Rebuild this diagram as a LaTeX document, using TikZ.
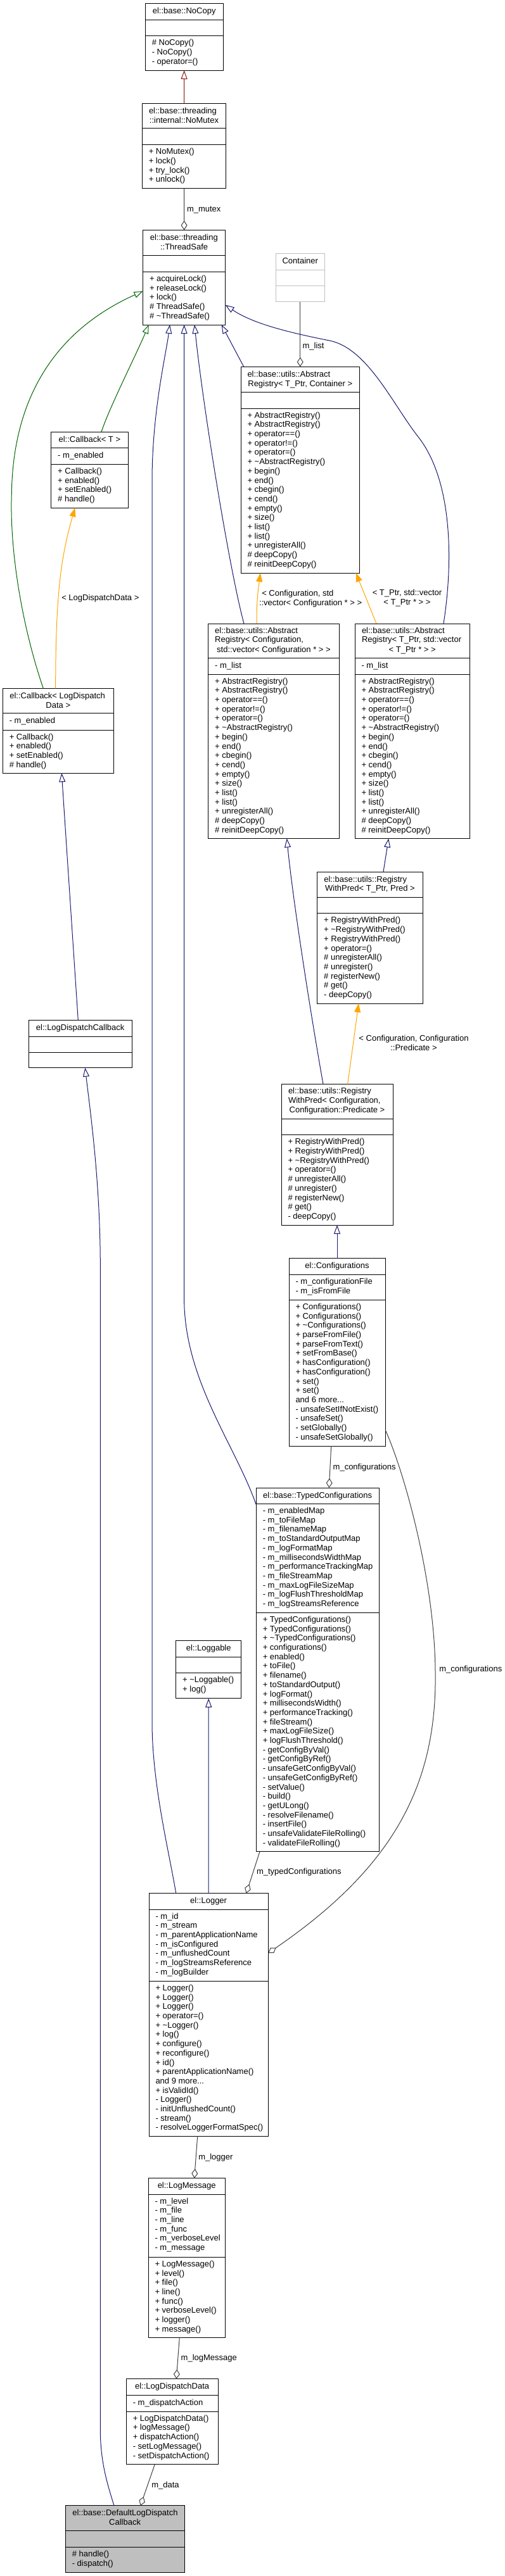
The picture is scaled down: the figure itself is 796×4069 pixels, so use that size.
\documentclass[tikz,border=0pt]{standalone}
\usepackage{fontspec}
\setmainfont{Liberation Sans}
\usetikzlibrary{arrows.meta}
\definecolor{dblue}{HTML}{191970}
\definecolor{dgreen}{HTML}{006400}
\definecolor{dorange}{HTML}{FFA500}
\definecolor{dred}{HTML}{8B1A1A}
\definecolor{dgray}{HTML}{404040}
\definecolor{lgray}{HTML}{BFBFBF}
\newcounter{txn}
\tikzset{
  umlbox/.style={draw=black, line width=1pt, fill=white, inner sep=0pt, outer sep=0pt, anchor=north west},
  sepline/.style={line width=1pt},
  txt/.style={font=\fontsize{13}{14.7}\selectfont, inner sep=0pt, outer sep=0pt, align=left, text=black, execute at begin node=\strut},
  inh/.style={draw=#1, line width=1pt, -{Triangle[open,length=14pt,width=10pt]}},
  tmpl/.style={draw=dorange, line width=1pt, -{Triangle[length=14pt,width=10pt]}},
  agg/.style={draw=dgray, line width=1pt, -{Diamond[open,length=15pt,width=10pt]}},
}
\newcommand\umlcls[6][]{\node[umlbox,#1,minimum width={#4-#2},minimum height={#5-#3}] (#6) at (#2,#3) {};}
\newcommand\sepl[4][black]{\draw[sepline,draw=#1] (#2,#4) -- (#3,#4);}
\newcommand\tleft[3]{\stepcounter{txn}\node[txt,anchor=north west] (t\arabic{txn}) at (#1,{#2-10.29}) {#3};}
\newcommand\tcent[3]{\stepcounter{txn}\node[txt,anchor=north,align=center] (t\arabic{txn}) at (#1,{#2-10.29}) {#3};}
\newcommand\armethods{+ AbstractRegistry()\\+ AbstractRegistry()\\+ operator==()\\+ operator!=()\\+ operator=()\\+ \textasciitilde AbstractRegistry()\\+ begin()\\+ end()\\+ cbegin()\\+ cend()\\+ empty()\\+ size()\\+ list()\\+ list()\\+ unregisterAll()\\\# deepCopy()\\\# reinitDeepCopy()}
\begin{document}
\begin{tikzpicture}[x=1pt,y=-1pt]
\fill[white] (0,0) rectangle (796,4069);
\useasboundingbox (0,0) rectangle (796,4069);

% NoCopy
\umlcls{229.3}{5.7}{352}{111}{nocopy}
\sepl{229.3}{352}{31.3}\sepl{229.3}{352}{56.7}
\tcent{290.65}{21.7}{el::base::NoCopy}
\tleft{239.8}{72.7}{\# NoCopy()\\- NoCopy()\\- operator=()}

% NoMutex
\umlcls{224.3}{163.3}{356.7}{297.7}{nomutex}
\sepl{224.3}{356.7}{202.7}\sepl{224.3}{356.7}{228.7}
\tleft{235}{179.3}{el::base::threading}
\tcent{290.5}{194}{::internal::NoMutex}
\tleft{234.8}{244.7}{+ NoMutex()\\+ lock()\\+ try\_lock()\\+ unlock()}

% ThreadSafe
\umlcls{225.5}{363.5}{355.7}{513}{threadsafe}
\sepl{225.5}{355.7}{403.3}\sepl{225.5}{355.7}{429.3}
\tleft{236.8}{379.5}{el::base::threading}
\tcent{290.6}{394.2}{::ThreadSafe}
\tleft{236}{445.3}{+ acquireLock()\\+ releaseLock()\\+ lock()\\\# ThreadSafe()\\\# \textasciitilde ThreadSafe()}

% Container
\umlcls[draw=lgray]{435.5}{400.7}{512}{476.7}{container}
\sepl[lgray]{435.5}{512}{426}\sepl[lgray]{435.5}{512}{451}
\tcent{473.75}{416.7}{Container}

% AbstractRegistry<T_Ptr, Container>
\umlcls{380}{579.3}{567.5}{905}{arcont}
\sepl{380}{567.5}{619.5}\sepl{380}{567.5}{645}
\tleft{390.5}{595.3}{el::base::utils::Abstract}
\tcent{473.75}{610}{Registry< T\_Ptr, Container >}
\tleft{390.5}{661}{\armethods}

% Callback<T>
\umlcls{80.7}{682.3}{202}{802.3}{cbt}
\sepl{80.7}{202}{707.7}\sepl{80.7}{202}{733.3}
\tcent{141.35}{698.3}{el::Callback< T >}
\tleft{91.2}{723.7}{- m\_enabled}
\tleft{91.2}{749.3}{+ Callback()\\+ enabled()\\+ setEnabled()\\\# handle()}

% Callback<LogDispatchData>
\umlcls{4.3}{1087.3}{179.3}{1221.2}{cbldd}
\sepl{4.3}{179.3}{1126.8}\sepl{4.3}{179.3}{1153}
\tleft{15.3}{1103.3}{el::Callback< LogDispatch}
\tcent{91.8}{1118}{Data >}
\tleft{14.8}{1142.8}{- m\_enabled}
\tleft{14.8}{1169}{+ Callback()\\+ enabled()\\+ setEnabled()\\\# handle()}

% AbstractRegistry<Configuration, ...>
\umlcls{328.7}{985}{535.3}{1324.5}{arconf}
\sepl{328.7}{535.3}{1039}\sepl{328.7}{535.3}{1065}
\tleft{339.2}{1001}{el::base::utils::Abstract\\Registry< Configuration,}
\tcent{432}{1030.4}{std::vector< Configuration * > >}
\tleft{339.2}{1055}{- m\_list}
\tleft{339.2}{1081}{\armethods}

% AbstractRegistry<T_Ptr, std::vector>
\umlcls{560}{985}{741.5}{1324.5}{arvec}
\sepl{560}{741.5}{1039}\sepl{560}{741.5}{1065}
\tleft{571}{1001}{el::base::utils::Abstract\\Registry< T\_Ptr, std::vector}
\tcent{650.75}{1030.4}{< T\_Ptr * > >}
\tleft{570.5}{1055}{- m\_list}
\tleft{570.5}{1081}{\armethods}

% RegistryWithPred<T_Ptr, Pred>
\umlcls{500.7}{1377}{667.3}{1585}{rwptp}
\sepl{500.7}{667.3}{1417}\sepl{500.7}{667.3}{1442.8}
\tleft{511.3}{1393}{el::base::utils::Registry}
\tcent{584}{1407.7}{WithPred< T\_Ptr, Pred >}
\tleft{511.2}{1458.8}{+ RegistryWithPred()\\+ \textasciitilde RegistryWithPred()\\+ RegistryWithPred()\\+ operator=()\\\# unregisterAll()\\\# unregister()\\\# registerNew()\\\# get()\\- deepCopy()}

% RegistryWithPred<Configuration, ...>
\umlcls{444}{1712.3}{620}{1935}{rwpconf}
\sepl{444}{620}{1767.3}\sepl{444}{620}{1792.7}
\tleft{455}{1728.3}{el::base::utils::Registry\\WithPred< Configuration,}
\tcent{532}{1757.7}{Configuration::Predicate >}
\tleft{454.5}{1808.7}{+ RegistryWithPred()\\+ RegistryWithPred()\\+ \textasciitilde RegistryWithPred()\\+ operator=()\\\# unregisterAll()\\\# unregister()\\\# registerNew()\\\# get()\\- deepCopy()}

% LogDispatchCallback
\umlcls{45}{1611.5}{208.3}{1686.7}{ldcb}
\sepl{45}{208.3}{1637.6}\sepl{45}{208.3}{1662.5}
\tcent{126.65}{1627.5}{el::LogDispatchCallback}

% Configurations
\umlcls{456}{1987.7}{608}{2284}{configs}
\sepl{456}{608}{2013.3}\sepl{456}{608}{2053.3}
\tcent{532}{2003.7}{el::Configurations}
\tleft{466.5}{2029.3}{- m\_configurationFile\\- m\_isFromFile}
\tleft{466.5}{2069.3}{+ Configurations()\\+ Configurations()\\+ \textasciitilde Configurations()\\+ parseFromFile()\\+ parseFromText()\\+ setFromBase()\\+ hasConfiguration()\\+ hasConfiguration()\\+ set()\\+ set()\\and 6 more...\\- unsafeSetIfNotExist()\\- unsafeSet()\\- setGlobally()\\- unsafeSetGlobally()}

% TypedConfigurations
\umlcls{404.3}{2350}{598}{2924.6}{typedconf}
\sepl{404.3}{598}{2375.4}\sepl{404.3}{598}{2547.3}
\tcent{501.15}{2366}{el::base::TypedConfigurations}
\tleft{414.8}{2391.4}{- m\_enabledMap\\- m\_toFileMap\\- m\_filenameMap\\- m\_toStandardOutputMap\\- m\_logFormatMap\\- m\_millisecondsWidthMap\\- m\_performanceTrackingMap\\- m\_fileStreamMap\\- m\_maxLogFileSizeMap\\- m\_logFlushThresholdMap\\- m\_logStreamsReference}
\tleft{414.8}{2563.3}{+ TypedConfigurations()\\+ TypedConfigurations()\\+ \textasciitilde TypedConfigurations()\\+ configurations()\\+ enabled()\\+ toFile()\\+ filename()\\+ toStandardOutput()\\+ logFormat()\\+ millisecondsWidth()\\+ performanceTracking()\\+ fileStream()\\+ maxLogFileSize()\\+ logFlushThreshold()\\- getConfigByVal()\\- getConfigByRef()\\- unsafeGetConfigByVal()\\- unsafeGetConfigByRef()\\- setValue()\\- build()\\- getULong()\\- resolveFilename()\\- insertFile()\\- unsafeValidateFileRolling()\\- validateFileRolling()}

% Loggable
\umlcls{277.7}{2591.3}{380.7}{2682.8}{loggable}
\sepl{277.7}{380.7}{2617.4}\sepl{277.7}{380.7}{2642.6}
\tcent{329.2}{2607.3}{el::Loggable}
\tleft{288.2}{2658.6}{+ \textasciitilde Loggable()\\+ log()}

% Logger
\umlcls{235}{2990.6}{423.3}{3374.3}{logger}
\sepl{235}{423.3}{3016}\sepl{235}{423.3}{3129.3}
\tcent{329.15}{3006.6}{el::Logger}
\tleft{245.5}{3032}{- m\_id\\- m\_stream\\- m\_parentApplicationName\\- m\_isConfigured\\- m\_unflushedCount\\- m\_logStreamsReference\\- m\_logBuilder}
\tleft{245.5}{3145.3}{+ Logger()\\+ Logger()\\+ Logger()\\+ operator=()\\+ \textasciitilde Logger()\\+ log()\\+ configure()\\+ reconfigure()\\+ id()\\+ parentApplicationName()\\and 9 more...\\+ isValidId()\\- Logger()\\- initUnflushedCount()\\- stream()\\- resolveLoggerFormatSpec()}

% LogMessage
\umlcls{234}{3440.7}{355.3}{3692.3}{logmsg}
\sepl{234}{355.3}{3466}\sepl{234}{355.3}{3565.3}
\tcent{294.65}{3456.7}{el::LogMessage}
\tleft{244.5}{3482}{- m\_level\\- m\_file\\- m\_line\\- m\_func\\- m\_verboseLevel\\- m\_message}
\tleft{244.5}{3581.3}{+ LogMessage()\\+ level()\\+ file()\\+ line()\\+ func()\\+ verboseLevel()\\+ logger()\\+ message()}

% LogDispatchData
\umlcls{199.3}{3757.6}{344}{3892.6}{ldd}
\sepl{199.3}{344}{3783}\sepl{199.3}{344}{3809.1}
\tcent{271.65}{3773.6}{el::LogDispatchData}
\tleft{209.8}{3799}{- m\_dispatchAction}
\tleft{209.8}{3825.1}{+ LogDispatchData()\\+ logMessage()\\+ dispatchAction()\\- setLogMessage()\\- setDispatchAction()}

% DefaultLogDispatchCallback
\umlcls[fill=lgray]{103.3}{3957.9}{291}{4063}{dldc}
\sepl{103.3}{291}{3997.8}\sepl{103.3}{291}{4023.6}
\tleft{114.3}{3973.9}{el::base::DefaultLogDispatch}
\tcent{197.15}{3988.6}{Callback}
\tleft{113.8}{4039.6}{\# handle()\\- dispatch()}

% ---------------- connectors ----------------
\draw[inh=dred] (nomutex.north) -- (nocopy.south);
\draw[agg] (nomutex.south) -- (threadsafe.north);
\draw[agg] (container.south) -- (arcont.north);
\draw[inh=dgreen] ([xshift=18.65pt]cbt.north) .. controls (172,645) and (215,560) .. ([xshift=-55.8pt]threadsafe.south);
\draw[inh=dgreen] ([xshift=-23.5pt]cbldd.north) .. controls (35,990) and (15,870) .. (18.3,780) .. controls (20,650) and (70,530) .. ([yshift=-21.75pt]threadsafe.west);
\draw[inh=dblue] ([xshift=-51.45pt]logger.north) .. controls (268,2930) and (240,2820) .. (240,2720) -- (240,760) .. controls (240,650) and (262,560) .. ([xshift=-22.6pt]threadsafe.south);
\draw[inh=dblue] ([yshift=-26.7pt]typedconf.north west) .. controls (370,2280) and (290.6,2180) .. (290.6,2050) -- (threadsafe.south);
\draw[inh=dblue] ([xshift=-47pt]arconf.north) .. controls (362,900) and (320,640) .. ([xshift=16.4pt]threadsafe.south);
\draw[inh=dblue] ([xshift=4.7pt]arcont.north west) -- ([xshift=59pt]threadsafe.south);
\draw[inh=dblue] ([xshift=49.25pt]arvec.north) .. controls (715,890) and (715,760) .. (660,690) .. controls (620,639) and (580,550) .. (520,538) .. controls (460,526) and (400,512) .. ([yshift=-43.45pt]threadsafe.east);
\draw[tmpl] ([xshift=-27pt]arconf.north) .. controls (405,950) and (407,935) .. ([xshift=-62.75pt]arcont.south);
\draw[tmpl] ([xshift=-56.75pt]arvec.north) -- ([xshift=87.95pt]arcont.south);
\draw[inh=dblue] ([xshift=-22pt]rwpconf.north) .. controls (490,1600) and (462,1420) .. ([xshift=20.7pt]arconf.south);
\draw[tmpl] ([xshift=16.7pt]rwpconf.north) -- ([xshift=-18pt]rwptp.south);
\draw[inh=dblue] ([xshift=21pt]rwptp.north) -- ([xshift=-37.45pt]arvec.south);
\draw[inh=dblue] (configs.north) -- (rwpconf.south);
\draw[agg] ([xshift=-9.3pt]configs.south) -- ([xshift=18.15pt]typedconf.north);
\draw[agg] ([yshift=25.7pt]configs.south east) .. controls (640,2330) and (686,2500) .. (687,2640) .. controls (690,2820) and (620,2950) .. ([yshift=97.45pt]logger.east);
\draw[agg] ([xshift=-91.15pt]typedconf.south) -- ([xshift=59.5pt]logger.north);
\draw[inh=dblue] (logger.north) -- (loggable.south);
\draw[agg] ([xshift=-17.45pt]logger.south) -- ([xshift=12.05pt]logmsg.north);
\draw[agg] ([xshift=-11.35pt]logmsg.south) -- ([xshift=6.65pt]ldd.north);
\draw[agg] ([xshift=-27.35pt]ldd.south) -- ([xshift=24.55pt]dldc.north);
\draw[tmpl] ([xshift=-4.1pt]cbldd.north) .. controls (87.7,940) and (96,880) .. ([xshift=-23pt]cbt.south);
\draw[inh=dblue] ([xshift=-3.35pt]ldcb.north) -- ([xshift=5.5pt]cbldd.south);
\draw[inh=dblue] ([xshift=-17.15pt]dldc.north) .. controls (170,3925) and (158.3,3890) .. (158.3,3837) -- (158.3,2000) .. controls (158.3,1870) and (143,1760) .. ([xshift=7.65pt]ldcb.south);

% ---------------- connector labels ----------------
\tleft{295}{334.5}{m\_mutex}
\tleft{477.6}{550.5}{m\_list}
\tleft{97.3}{948.8}{< LogDispatchData >}
\tleft{413.3}{941.2}{< Configuration, std}
\tleft{409}{956.2}{::vector< Configuration * > >}
\tcent{642.5}{941.2}{< T\_Ptr, std::vector\\< T\_Ptr * > >}
\tcent{653}{1645.2}{< Configuration, Configuration\\::Predicate >}
\tleft{525.7}{2321.2}{m\_configurations}
\tleft{693.3}{2640.2}{m\_configurations}
\tleft{405}{2960.3}{m\_typedConfigurations}
\tleft{313.3}{3411.2}{m\_logger}
\tleft{285.7}{3728.7}{m\_logMessage}
\tleft{239.3}{3929}{m\_data}
\end{tikzpicture}
\end{document}
